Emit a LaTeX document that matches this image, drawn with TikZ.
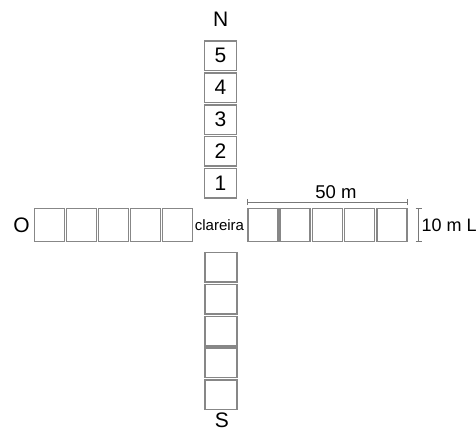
\documentclass[tikz,border=0pt]{standalone}
\usepackage{fontspec}
\setmainfont{Liberation Sans}
\begin{document}
\begin{tikzpicture}[x=1pt,y=-1pt,
  plot/.style={draw={rgb,255:red,135;green,135;blue,135},line width=1.5pt,fill=white,inner sep=0pt},
  nsbox/.style={plot,minimum width=32pt,minimum height=29.5pt,font=\fontsize{21}{22}\selectfont},
  webox/.style={plot,minimum width=30pt,minimum height=33pt},
  big/.style={font=\fontsize{21}{22}\selectfont,inner sep=0pt},
  dim/.style={draw={rgb,255:red,120;green,120;blue,120},line width=0.9pt}]
\useasboundingbox (0,0) rectangle (476,430);
% North
\node[nsbox] (n5) at (220.5,55.8) {5};
\node[nsbox] (n4) at (220.5,87.7) {4};
\node[nsbox] (n3) at (220.5,119.6) {3};
\node[nsbox] (n2) at (220.5,151.5) {2};
\node[nsbox] (n1) at (220.5,183.4) {1};
% South
\node[nsbox] (s1) at (221,267.2) {};
\node[nsbox] (s2) at (221,299.1) {};
\node[nsbox] (s3) at (221,331) {};
\node[nsbox] (s4) at (221,362.9) {};
\node[nsbox] (s5) at (221,394.8) {};
% West
\node[webox] (w5) at (49.5,225) {};
\node[webox] (w4) at (81.5,225) {};
\node[webox] (w3) at (113.5,225) {};
\node[webox] (w2) at (145.5,225) {};
\node[webox] (w1) at (177.5,225) {};
% East
\node[webox] (e1) at (263,225) {};
\node[webox] (e2) at (295.2,225) {};
\node[webox] (e3) at (327.4,225) {};
\node[webox] (e4) at (359.6,225) {};
\node[webox] (e5) at (391.8,225) {};
% labels
\node[big] (lN) at (220.8,19.2) {N};
\node[big] (lS) at (222,419.8) {S};
\node[big] (lO) at (21.5,225.5) {O};
\node[inner sep=0pt,font=\fontsize{15}{16}\selectfont] (cl) at (219.5,225) {clareira};
% dimension lines
\coordinate (ha) at ([yshift=5.5pt]e1.north west);
\coordinate (hb) at ([yshift=5.5pt]e5.north east);
\draw[dim] (ha) -- (hb);
\draw[dim] ([yshift=-3pt]ha) -- ([yshift=3pt]ha);
\draw[dim] ([yshift=-3pt]hb) -- ([yshift=3pt]hb);
\node[inner sep=0pt,font=\fontsize{18.5}{19}\selectfont] (l50) at (336,192) {50 m};
\coordinate (va) at (418.5,208.5);
\coordinate (vb) at (418.5,241.5);
\draw[dim] (va) -- (vb);
\draw[dim] ([xshift=-3pt]va) -- ([xshift=3pt]va);
\draw[dim] ([xshift=-3pt]vb) -- ([xshift=3pt]vb);
\node[inner sep=0pt,anchor=west,font=\fontsize{18}{19}\selectfont] (l10) at (421.5,225) {10 m L};
\end{tikzpicture}
\end{document}
